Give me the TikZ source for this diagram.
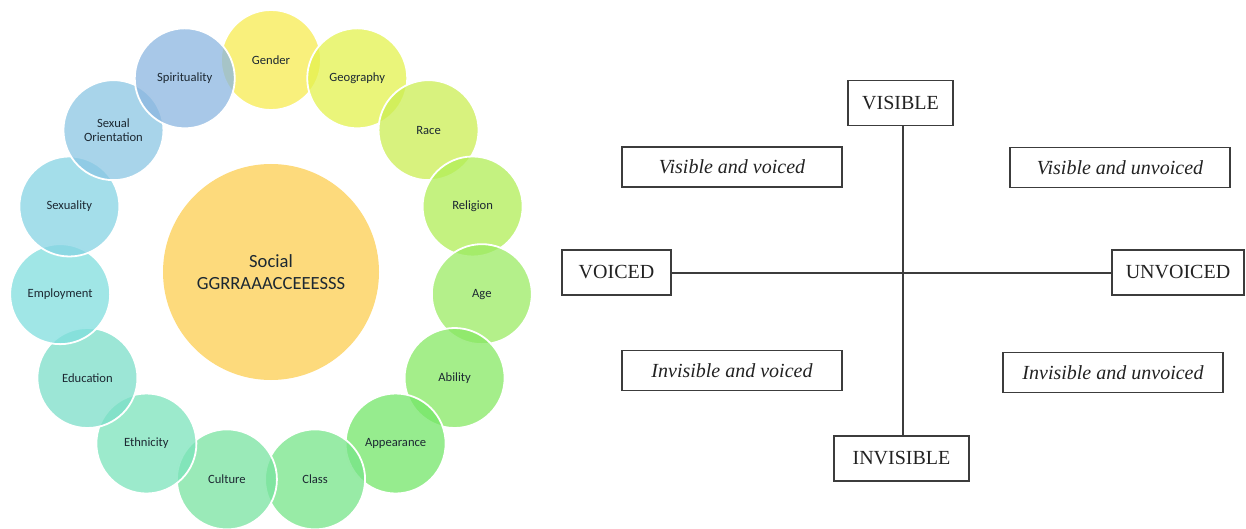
\documentclass[tikz,border=0pt]{standalone}
\usepackage{fontspec}
\setmainfont{Liberation Serif}
\newfontfamily\calibri{Carlito}
\definecolor{socialcol}{RGB}{253,218,124}
\definecolor{gendercol}{RGB}{247,235,80}
\definecolor{geographycol}{RGB}{227,242,78}
\definecolor{racecol}{RGB}{203,238,83}
\definecolor{religioncol}{RGB}{176,238,86}
\definecolor{agecol}{RGB}{155,235,99}
\definecolor{abilitycol}{RGB}{134,232,99}
\definecolor{appearancecol}{RGB}{115,230,104}
\definecolor{classcol}{RGB}{118,228,136}
\definecolor{culturecol}{RGB}{120,227,160}
\definecolor{ethnicitycol}{RGB}{123,227,187}
\definecolor{educationcol}{RGB}{123,222,200}
\definecolor{employmentcol}{RGB}{128,222,222}
\definecolor{sexualitycol}{RGB}{134,211,227}
\definecolor{orientationcol}{RGB}{139,198,227}
\definecolor{spiritualitycol}{RGB}{139,182,224}
\definecolor{labelcol}{RGB}{28,40,50}
\definecolor{linecol}{RGB}{60,60,60}
\definecolor{textcol}{RGB}{34,34,34}
\begin{document}
\begin{tikzpicture}[x=0.5pt, y=0.5pt,
        ring/.style={circle, minimum size=50pt, inner sep=0pt, draw=white, line width=0.9pt,
            fill opacity=0.75, text opacity=1, text=labelcol, align=center,
            font=\calibri\fontsize{6.3}{6.8}\selectfont},
        axisbox/.style={draw=linecol, line width=0.75pt, minimum height=22.5pt, inner sep=0pt,
            text=textcol, font=\fontsize{10}{12}\selectfont},
        quadbox/.style={draw=linecol, line width=0.75pt, minimum width=110pt, minimum height=20pt,
            inner sep=0pt, text=textcol, font=\itshape\fontsize{10}{12}\selectfont}]
    \useasboundingbox (0, 0) rectangle (1246, -529);
    % the wheel
    \node[circle, fill=socialcol, minimum size=108pt, inner sep=0pt, align=center, text=labelcol,
        font=\calibri\fontsize{9.3}{11}\selectfont] (social) at (271, -272) {Social\\GGRRAAACCEEESSS};
    \begin{scope}[shift={(271, -272)}]
        \node[ring, fill=gendercol] (gender) at (90:212) {Gender};
        \node[ring, fill=geographycol] (geography) at (66:212) {Geography};
        \node[ring, fill=racecol] (race) at (42:212) {Race};
        \node[ring, fill=religioncol] (religion) at (18:212) {Religion};
        \node[ring, fill=agecol] (age) at (-6:212) {Age};
        \node[ring, fill=abilitycol] (ability) at (-30:212) {Ability};
        \node[ring, fill=appearancecol] (appearance) at (-54:212) {Appearance};
        \node[ring, fill=classcol] (class) at (-78:212) {Class};
        \node[ring, fill=culturecol] (culture) at (-102:212) {Culture};
        \node[ring, fill=ethnicitycol] (ethnicity) at (-126:212) {Ethnicity};
        \node[ring, fill=educationcol] (education) at (-150:212) {Education};
        \node[ring, fill=employmentcol] (employment) at (-174:212) {Employment};
        \node[ring, fill=sexualitycol] (sexuality) at (162:212) {Sexuality};
        \node[ring, fill=orientationcol] (orientation) at (138:212) {Sexual\\Orientation};
        \node[ring, fill=spiritualitycol] (spirituality) at (114:212) {Spirituality};
    \end{scope}
    % the cross
    \node[axisbox, minimum width=52.5pt] (visible) at (900.5, -103) {VISIBLE};
    \node[axisbox, minimum width=67.5pt] (invisible) at (901.5, -458.5) {INVISIBLE};
    \node[axisbox, minimum width=54.5pt] (voiced) at (616.5, -272.5) {VOICED};
    \node[axisbox, minimum width=66pt] (unvoiced) at (1178, -272.5) {UNVOICED};
    \node[quadbox] (visvoiced) at (732, -167) {Visible and voiced};
    \node[quadbox] (visunvoiced) at (1120, -167.5) {Visible and unvoiced};
    \node[quadbox] (invvoiced) at (732, -370.5) {Invisible and voiced};
    \node[quadbox] (invunvoiced) at (1113, -372.5) {Invisible and unvoiced};
    \coordinate (cross) at (903, -273);
    \draw[linecol, line width=0.75pt] (visible.south -| cross) -- (invisible.north -| cross);
    \draw[linecol, line width=0.75pt] (voiced.east |- cross) -- (unvoiced.west |- cross);
\end{tikzpicture}
\end{document}
